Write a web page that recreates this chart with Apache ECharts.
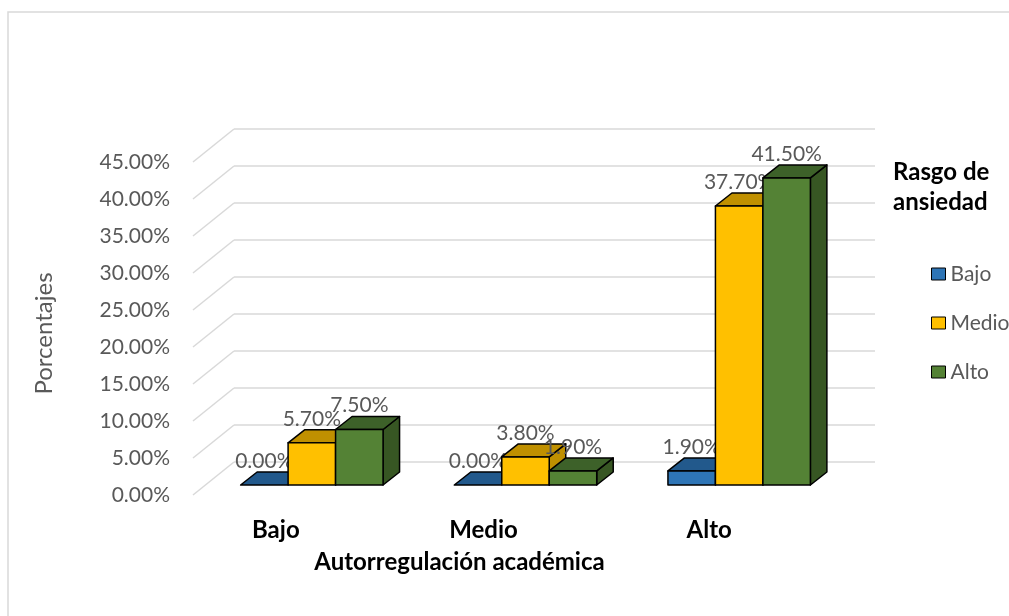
<!DOCTYPE html>
<html>
<head>
<meta charset="utf-8">
<script src="https://cdn.jsdelivr.net/npm/echarts@6/dist/echarts.min.js"></script>
<style>
html,body{margin:0;padding:0;background:#fff;}
#chart{width:1009px;height:616px;}
</style>
</head>
<body>
<div id="chart"></div>
<script>
// ---- data ----
var categories = ['Bajo', 'Medio', 'Alto'];           // Autorregulación académica
var seriesNames = ['Bajo', 'Medio', 'Alto'];          // Rasgo de ansiedad
var valuesBajo  = [0.0, 0.0, 1.9];
var valuesMedio = [5.7, 3.8, 37.7];
var valuesAlto  = [7.5, 1.9, 41.5];
var yTicks = [0, 5, 10, 15, 20, 25, 30, 35, 40, 45];

// ---- styling ----
var FONT = 'Lato, "Open Sans", sans-serif';
var palette = [
  {front: '#2E75B6', top: '#22598C', side: '#1F4E79'},
  {front: '#FFC000', top: '#C09000', side: '#BF9000'},
  {front: '#548235', top: '#3D6129', side: '#375623'}
];
var FX = 12, FY = -10;      // bar front face offset from the front plane
var DX = 16.5, DY = -13;    // bar depth
var BX = 41, BY = -33;      // back wall offset from the front plane

function barRenderer(s) {
  return function (params, api) {
    var cat = api.value(0), v = api.value(1);
    var c0 = api.coord([cat, 0]);
    var cv = api.coord([cat, v]);
    var catW = api.size([1, 0])[0];
    var bw = catW / 4.5;
    var x0 = c0[0] + FX - 1.5 * bw + s * bw;
    var x1 = x0 + bw;
    var yb = c0[1] + FY;
    var yt = cv[1] + FY;
    var col = palette[s];
    var ls = {stroke: '#000', lineWidth: 1.5, lineJoin: 'round'};
    var children = [];
    if (yb - yt > 0.5) {
      children.push({type: 'polygon', shape: {points: [[x1, yb], [x1, yt], [x1 + DX, yt + DY], [x1 + DX, yb + DY]]},
        style: Object.assign({fill: col.side}, ls)});
    }
    children.push({type: 'polygon', shape: {points: [[x0, yt], [x1, yt], [x1 + DX, yt + DY], [x0 + DX, yt + DY]]},
      style: Object.assign({fill: col.top}, ls)});
    if (yb - yt > 0.5) {
      children.push({type: 'rect', shape: {x: x0, y: yt, width: bw, height: yb - yt},
        style: Object.assign({fill: col.front}, ls)});
    }
    children.push({type: 'text', style: {
      text: v.toFixed(2) + '%', x: (x0 + x1) / 2, y: yt - 24,
      align: 'center', verticalAlign: 'middle',
      fill: '#595959', font: '21px ' + FONT}});
    return {type: 'group', children: children};
  };
}

function gridRenderer(params, api) {
  var cs = params.coordSys;
  var v = api.value(1);
  var y = api.coord([0, v])[1];
  var left = cs.x, right = cs.x + cs.width;
  var st = {stroke: '#D9D9D9', lineWidth: 1.5};
  return {type: 'group', children: [
    {type: 'line', shape: {x1: left, y1: y, x2: left + BX, y2: y + BY}, style: st},
    {type: 'line', shape: {x1: left + BX, y1: y + BY, x2: right + BX, y2: y + BY}, style: st}
  ]};
}

function toPairs(arr) { return arr.map(function (v, i) { return [i, v]; }); }

var labelShift = [48, 60, 36];
var rich = {};
categories.forEach(function (c, i) {
  rich['c' + i] = {fontFamily: FONT, fontSize: 24, fontWeight: 'bold', color: '#000', padding: [0, labelShift[i], 0, 0]};
});

var seriesValues = [valuesBajo, valuesMedio, valuesAlto];
var series = [{
  type: 'custom', name: '_grid', silent: true, z: 1,
  renderItem: gridRenderer,
  data: yTicks.map(function (t) { return [0, t]; })
}];
seriesNames.forEach(function (n, s) {
  series.push({
    type: 'custom', name: n, z: 2 + s,
    renderItem: barRenderer(s),
    itemStyle: {color: palette[s].front, borderColor: '#000', borderWidth: 1},
    data: toPairs(seriesValues[s])
  });
});

var chart = echarts.init(document.getElementById('chart'), null, {renderer: 'canvas'});
chart.setOption({
  animation: false,
  backgroundColor: '#fff',
  graphic: [{type: 'rect', shape: {x: 8, y: 12, width: 1020, height: 620},
    style: {fill: 'none', stroke: '#D9D9D9', lineWidth: 1.5}, silent: true, z: -10}],
  title: {
    text: 'Rasgo de\nansiedad', left: 888, top: 152,
    textStyle: {fontFamily: FONT, fontSize: 24, fontWeight: 'bold', color: '#000', lineHeight: 30}
  },
  legend: {
    orient: 'vertical', left: 926, top: 257, itemGap: 25,
    itemWidth: 14, itemHeight: 12, icon: 'rect',
    data: seriesNames,
    itemStyle: {borderColor: '#000', borderWidth: 1},
    textStyle: {fontFamily: FONT, fontSize: 21, color: '#595959', lineHeight: 24}
  },
  grid: {left: 193, right: 175, top: 162, bottom: 121, containLabel: false},
  xAxis: {
    type: 'category', data: categories,
    axisLine: {show: false}, axisTick: {show: false}, splitLine: {show: false},
    axisLabel: {
      margin: 23,
      formatter: function (val, idx) { return '{c' + idx + '|' + val + '}'; },
      rich: rich
    },
    name: 'Autorregulación académica', nameLocation: 'middle', nameGap: 55,
    nameTextStyle: {fontFamily: FONT, fontSize: 24, fontWeight: 'bold', color: '#000', padding: [0, 108, 0, 0]}
  },
  yAxis: {
    type: 'value', min: 0, max: 45, interval: 5,
    axisLine: {show: false}, axisTick: {show: false}, splitLine: {show: false},
    axisLabel: {
      margin: 23, color: '#595959', fontFamily: FONT, fontSize: 21,
      formatter: function (v) { return v.toFixed(2) + '%'; }
    },
    name: 'Porcentajes', nameLocation: 'middle', nameRotate: 90, nameGap: 137,
    nameTextStyle: {fontFamily: FONT, fontSize: 24, color: '#595959', padding: [0, 10, 0, 0]}
  },
  series: series
});
</script>
</body>
</html>
